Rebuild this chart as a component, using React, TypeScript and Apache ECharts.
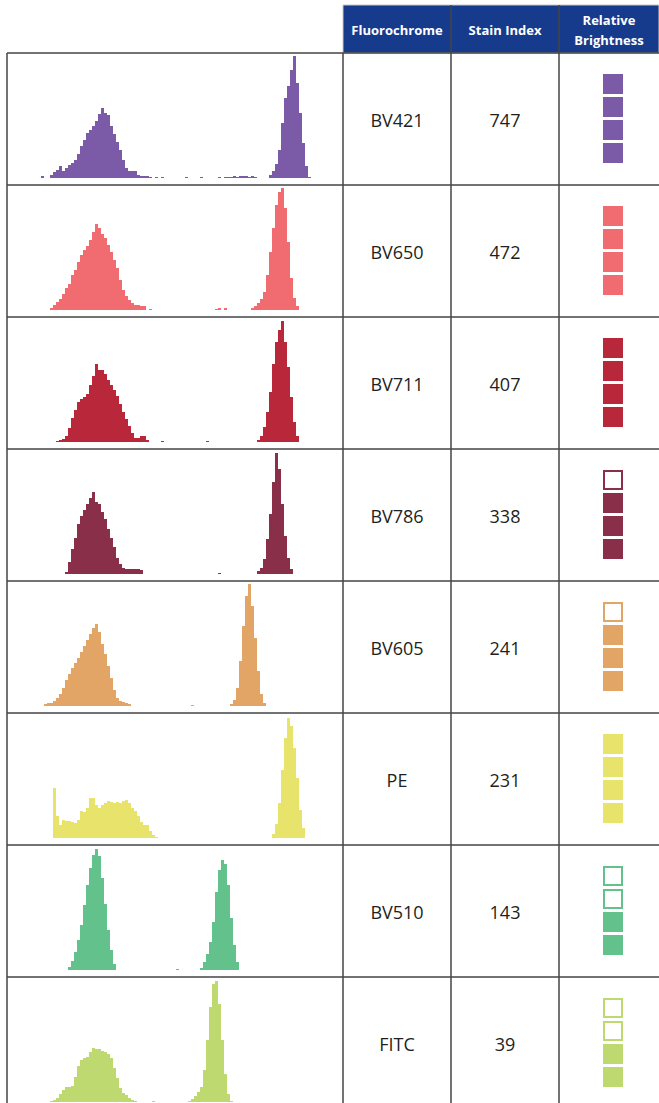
import React, { useEffect, useRef } from 'react';
import * as echarts from 'echarts';

// ---- Data ----
const fluorochromes = ['BV421', 'BV650', 'BV711', 'BV786', 'BV605', 'PE', 'BV510', 'FITC'];
const stainIndex = [747, 472, 407, 338, 241, 231, 143, 39];
const brightnessFilled = [4, 4, 4, 3, 3, 4, 2, 2]; // out of 4
const brightnessMax = 4;
const seriesColors = ['#7B5BA7', '#F16C70', '#B9283A', '#8A2F4A', '#E3A565', '#E8E46B', '#63C28B', '#BDD970'];
const headers = ['Fluorochrome', 'Stain Index', 'Relative\nBrightness'];

// histogram counts, 111 channel bins per fluorochrome
const bv421 = [
  0, 0, 0, 0, 0, 0, 0, 0, 0, 0, 0,
  2, 0, 0, 3, 6, 8, 12, 7, 10, 13,
  15, 18, 24, 32, 38, 45, 48, 52, 57, 64,
  70, 65, 63, 52, 44, 36, 28, 18, 10, 7,
  7, 7, 3, 2, 2, 2, 1, 0, 1, 0,
  1, 0, 0, 0, 0, 0, 0, 0, 1, 0,
  0, 0, 0, 1, 0, 0, 0, 0, 0, 1,
  0, 1, 1, 1, 2, 1, 2, 2, 2, 1,
  2, 1, 0, 0, 0, 0, 3, 7, 14, 28,
  55, 80, 92, 108, 122, 95, 65, 35, 12, 1,
  0, 0, 0, 0, 0, 0, 0, 0, 0, 0,
];
const bv650 = [
  0, 0, 0, 0, 0, 0, 0, 0, 0, 0,
  0, 0, 0, 0, 2, 5, 8, 11, 16, 22,
  26, 35, 40, 48, 55, 60, 64, 70, 78, 86,
  82, 76, 72, 65, 58, 50, 42, 30, 20, 14,
  10, 7, 5, 5, 4, 4, 0, 1, 0, 0,
  0, 0, 0, 0, 0, 0, 0, 0, 0, 0,
  0, 0, 0, 0, 0, 0, 0, 0, 0, 1,
  2, 0, 2, 0, 0, 0, 0, 0, 0, 0,
  0, 2, 4, 7, 11, 18, 35, 58, 82, 105,
  118, 122, 102, 68, 32, 12, 4, 0, 0, 0,
  0, 0, 0, 0, 0, 0, 0, 0, 0, 0, 0,
];
const bv711 = [
  0, 0, 0, 0, 0, 0, 0, 0, 0, 0,
  0, 0, 0, 0, 0, 0, 1, 2, 3, 6,
  14, 24, 32, 40, 43, 45, 48, 57, 66, 78,
  72, 72, 68, 62, 57, 52, 46, 38, 30, 23,
  16, 9, 4, 4, 6, 6, 2, 0, 0, 0,
  0, 1, 0, 0, 0, 0, 0, 0, 0, 0,
  0, 0, 0, 0, 0, 0, 1, 0, 0, 0,
  0, 0, 0, 0, 0, 0, 0, 0, 0, 0,
  0, 0, 0, 2, 6, 15, 30, 50, 78, 100,
  112, 121, 100, 75, 45, 20, 6, 0, 0, 0,
  0, 0, 0, 0, 0, 0, 0, 0, 0, 0, 0,
];
const bv786 = [
  0, 0, 0, 0, 0, 0, 0, 0, 0, 0,
  0, 0, 0, 0, 0, 0, 0, 0, 0, 2,
  12, 25, 36, 50, 58, 64, 70, 76, 82, 72,
  70, 62, 55, 45, 36, 27, 16, 10, 6, 5,
  5, 5, 5, 5, 4, 0, 0, 0, 0, 0,
  0, 0, 0, 0, 0, 0, 0, 0, 0, 0,
  0, 0, 0, 0, 0, 0, 0, 0, 0, 0,
  1, 0, 0, 0, 0, 0, 0, 0, 0, 0,
  0, 0, 0, 3, 6, 15, 35, 60, 92, 121,
  105, 70, 38, 16, 5, 0, 0, 0, 0, 0,
  0, 0, 0, 0, 0, 0, 0, 0, 0, 0, 0,
];
const bv605 = [
  0, 0, 0, 0, 0, 0, 0, 0, 0, 0,
  0, 0, 2, 3, 3, 5, 8, 12, 18, 26,
  32, 38, 43, 48, 54, 60, 66, 72, 78, 82,
  74, 62, 52, 40, 28, 16, 8, 5, 4, 3,
  2, 0, 0, 0, 0, 0, 0, 0, 0, 0,
  0, 0, 0, 0, 0, 0, 0, 0, 0, 0,
  0, 1, 0, 0, 0, 0, 0, 0, 0, 0,
  0, 0, 0, 0, 2, 6, 18, 45, 80, 110,
  122, 100, 68, 35, 12, 3, 0, 0, 0, 0,
  0, 0, 0, 0, 0, 0, 0, 0, 0, 0,
  0, 0, 0, 0, 0, 0, 0, 0, 0, 0, 0,
];
const pe = [
  0, 0, 0, 0, 0, 0, 0, 0, 0, 0,
  0, 0, 0, 0, 0, 50, 22, 13, 18, 17,
  17, 16, 15, 18, 27, 26, 30, 40, 40, 33,
  30, 33, 35, 37, 36, 35, 36, 35, 37, 38,
  35, 30, 27, 22, 16, 13, 13, 7, 3, 1,
  0, 0, 0, 0, 0, 0, 0, 0, 0, 0,
  0, 0, 0, 0, 0, 0, 0, 0, 0, 0,
  0, 0, 0, 0, 0, 0, 0, 0, 0, 0,
  0, 0, 0, 0, 0, 0, 0, 0, 4, 14,
  35, 68, 100, 120, 112, 90, 60, 28, 10, 0,
  0, 0, 0, 0, 0, 0, 0, 0, 0, 0, 0,
];
const bv510 = [
  0, 0, 0, 0, 0, 0, 0, 0, 0, 0,
  0, 0, 0, 0, 0, 0, 0, 0, 0, 0,
  3, 9, 18, 30, 45, 65, 85, 102, 115, 121,
  114, 92, 66, 40, 20, 6, 0, 0, 0, 0,
  0, 0, 0, 0, 0, 0, 0, 0, 0, 0,
  0, 0, 0, 0, 0, 0, 1, 0, 0, 0,
  0, 0, 0, 0, 2, 8, 16, 28, 48, 78,
  100, 110, 106, 85, 52, 25, 8, 0, 0, 0,
  0, 0, 0, 0, 0, 0, 0, 0, 0, 0,
  0, 0, 0, 0, 0, 0, 0, 0, 0, 0,
  0, 0, 0, 0, 0, 0, 0, 0, 0, 0, 0,
];
const fitc = [
  0, 0, 0, 0, 0, 0, 0, 0, 0, 0,
  0, 0, 0, 0, 1, 2, 4, 8, 12, 15,
  15, 16, 25, 36, 42, 44, 45, 50, 54, 53,
  53, 51, 50, 48, 44, 34, 24, 14, 9, 7,
  4, 2, 1, 0, 0, 0, 0, 0, 1, 0,
  0, 0, 0, 0, 0, 0, 0, 0, 0, 0,
  1, 3, 6, 10, 15, 32, 62, 95, 118, 121,
  98, 62, 28, 8, 1, 0, 0, 0, 0, 0,
  0, 0, 0, 0, 0, 0, 0, 0, 0, 0,
  0, 0, 0, 0, 0, 0, 0, 0, 0, 0,
  0, 0, 0, 0, 0, 0, 0, 0, 0, 0, 0,
];
const histograms = [bv421, bv650, bv711, bv786, bv605, pe, bv510, fitc];
const histMax = 122;

// ---- Layout ----
const W = 659;
const H = 1103;
const TABLE_LEFT = 7;
const COL_X = [343, 451, 559, 659];
const HEADER_TOP = 5;
const ROW_TOP0 = 53;
const ROW_H = 132;
const LINE_COLOR = '#444444';
const HEADER_BLUE = '#173B8C';
const TEXT_COLOR = '#231F20';

export default function App() {
  const ref = useRef<HTMLDivElement>(null);

  useEffect(() => {
    if (!ref.current) return;
    const chart = echarts.init(ref.current, null, { renderer: 'svg' });
    const nBins = histograms[0].length;
    const binLabels = Array.from({ length: nBins }, (_, i) => String(i));

    const grids: any[] = [];
    const xAxes: any[] = [];
    const yAxes: any[] = [];
    const series: any[] = [];
    histograms.forEach((h, k) => {
      const rowTop = ROW_TOP0 + k * ROW_H;
      grids.push({ left: 8, top: rowTop + 3, width: nBins * 3, height: histMax, containLabel: false });
      xAxes.push({ type: 'category', gridIndex: k, data: binLabels, show: false, boundaryGap: true });
      yAxes.push({ type: 'value', gridIndex: k, min: 0, max: histMax, show: false });
      series.push({
        type: 'bar',
        xAxisIndex: k,
        yAxisIndex: k,
        data: h,
        barCategoryGap: '0%',
        barGap: '0%',
        silent: true,
        itemStyle: { color: seriesColors[k], borderWidth: 0 },
      });
    });

    const graphics: any[] = [];
    // header
    graphics.push({
      type: 'rect',
      shape: { x: COL_X[0], y: HEADER_TOP, width: W - COL_X[0], height: ROW_TOP0 - HEADER_TOP },
      style: { fill: HEADER_BLUE, stroke: '#c8c8c8', lineWidth: 1 },
      z: 10,
    });
    headers.forEach((t, c) => {
      const cx = (COL_X[c] + COL_X[c + 1]) / 2;
      graphics.push({
        type: 'text',
        x: cx,
        y: (HEADER_TOP + ROW_TOP0) / 2 + 1,
        style: {
          text: t,
          fill: '#ffffff',
          font: 'bold 13px "Open Sans", sans-serif',
          align: 'center',
          verticalAlign: 'middle',
          lineHeight: 20,
        },
        z: 12,
      });
    });
    // lines
    const nRows = fluorochromes.length;
    for (let k = 0; k <= nRows; k++) {
      const y = ROW_TOP0 + k * ROW_H;
      if (y > H) break;
      graphics.push({
        type: 'line',
        shape: { x1: TABLE_LEFT, y1: y, x2: W, y2: y },
        style: { stroke: LINE_COLOR, lineWidth: 1.5 },
        z: 11,
      });
    }
    graphics.push({ type: 'line', shape: { x1: TABLE_LEFT, y1: ROW_TOP0, x2: TABLE_LEFT, y2: H }, style: { stroke: LINE_COLOR, lineWidth: 1.5 }, z: 11 });
    graphics.push({ type: 'line', shape: { x1: COL_X[0], y1: ROW_TOP0, x2: COL_X[0], y2: H }, style: { stroke: LINE_COLOR, lineWidth: 1.5 }, z: 11 });
    graphics.push({ type: 'line', shape: { x1: COL_X[1], y1: HEADER_TOP, x2: COL_X[1], y2: H }, style: { stroke: LINE_COLOR, lineWidth: 1.5 }, z: 13 });
    graphics.push({ type: 'line', shape: { x1: COL_X[2], y1: HEADER_TOP, x2: COL_X[2], y2: H }, style: { stroke: LINE_COLOR, lineWidth: 1.5 }, z: 13 });

    // cells
    fluorochromes.forEach((name, k) => {
      const rowTop = ROW_TOP0 + k * ROW_H;
      const cy = rowTop + ROW_H / 2 + 0.5;
      graphics.push({
        type: 'text',
        x: (COL_X[0] + COL_X[1]) / 2,
        y: cy,
        style: { text: name, fill: TEXT_COLOR, font: '18px "Open Sans", sans-serif', align: 'center', verticalAlign: 'middle' },
        z: 12,
      });
      graphics.push({
        type: 'text',
        x: (COL_X[1] + COL_X[2]) / 2,
        y: cy,
        style: { text: String(stainIndex[k]), fill: TEXT_COLOR, font: '18px "Open Sans", sans-serif', align: 'center', verticalAlign: 'middle' },
        z: 12,
      });
      const sqTop = rowTop + ROW_H / 2 - 45;
      for (let j = 0; j < brightnessMax; j++) {
        const filled = j >= brightnessMax - brightnessFilled[k];
        const y = sqTop + j * 23;
        graphics.push({
          type: 'rect',
          shape: filled ? { x: 603, y, width: 20, height: 20 } : { x: 604, y: y + 1, width: 18, height: 18 },
          style: filled
            ? { fill: seriesColors[k] }
            : { fill: '#ffffff', stroke: seriesColors[k], lineWidth: 2 },
          z: 12,
        });
      }
    });

    chart.setOption({
      animation: false,
      backgroundColor: '#ffffff',
      grid: grids,
      xAxis: xAxes,
      yAxis: yAxes,
      series,
      graphic: { elements: graphics },
    });
    return () => chart.dispose();
  }, []);

  return <div ref={ref} style={{ position: 'absolute', left: 0, top: 0, width: W, height: H }} />;
}
